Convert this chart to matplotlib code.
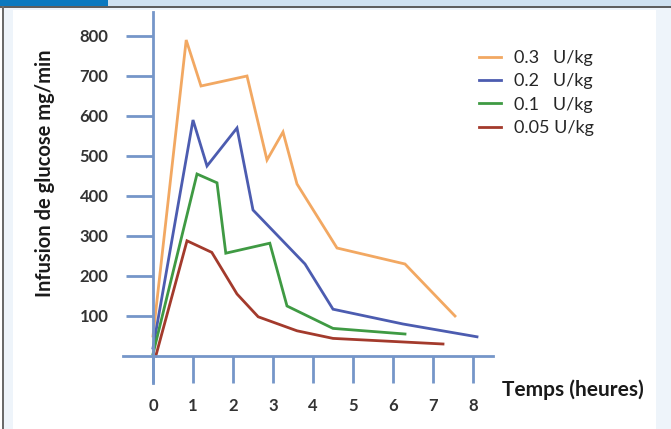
import matplotlib
matplotlib.use("Agg")
import matplotlib.pyplot as plt
from matplotlib.patches import Rectangle

# ---- data ----
doses = ["0.3   U/kg", "0.2   U/kg", "0.1   U/kg", "0.05 U/kg"]
colors = ["#f2a862", "#4c5cb0", "#3f9a43", "#a33a2c"]

t_03 = [0, 0.83, 1.2, 2.35, 2.85, 3.25, 3.6, 4.6, 6.3, 7.55]
v_03 = [50, 790, 675, 700, 490, 560, 430, 270, 230, 100]

t_02 = [0, 1.0, 1.35, 2.1, 2.5, 3.8, 4.5, 6.25, 8.1]
v_02 = [20, 590, 475, 570, 365, 230, 117, 80, 48]

t_01 = [0, 1.1, 1.6, 1.82, 2.92, 3.35, 4.5, 6.3]
v_01 = [5, 455, 433, 257, 282, 125, 69, 55]

t_005 = [0.07, 0.85, 1.47, 2.1, 2.63, 3.6, 4.5, 7.25]
v_005 = [0, 288, 259, 155, 98, 63, 44, 30]

yticks = [100, 200, 300, 400, 500, 600, 700, 800]
xticks = [0, 1, 2, 3, 4, 5, 6, 7, 8]

series = [(t_03, v_03), (t_02, v_02), (t_01, v_01), (t_005, v_005)]

W, H = 671, 429
fig = plt.figure(figsize=(W / 100, H / 100), dpi=100, facecolor="white")

def px_rect(x0, y0, x1, y1, color):
    fig.patches.append(Rectangle((x0 / W, 1 - y1 / H), (x1 - x0) / W, (y1 - y0) / H,
                                 transform=fig.transFigure, color=color, lw=0, zorder=0))

# frame decoration
px_rect(0, 0, W, 6, "#cfe1f0")
px_rect(0, 0, 108, 6, "#0a78bf")
px_rect(0, 6, W, 8, "#5e5e5e")
px_rect(0, 8, W, 10, "#eef4fa")
px_rect(2, 6, 4, H, "#6a6a6a")
px_rect(4, 8, 13, H, "#eef4fa")
px_rect(656, 8, W, H, "#eef4fa")

font = ["Lato", "DejaVu Sans"]
axcol = "#7596c9"
txtcol = "#262626"

ax = fig.add_axes([123 / W, (H - 383) / H, 370 / W, 371 / H])
ax.set_facecolor("none")
ax.set_xlim(-0.75, 8.5)
ax.set_ylim(-67.5, 860)

for (t, v), c, lab in zip(series, colors, doses):
    ax.plot(t, v, color=c, lw=2.0, label=lab, solid_joinstyle="miter")

for s in ["top", "right"]:
    ax.spines[s].set_visible(False)
ax.spines["left"].set_position(("data", 0))
ax.spines["bottom"].set_position(("data", 0))
for s in ["left", "bottom"]:
    ax.spines[s].set_color(axcol)
    ax.spines[s].set_linewidth(2.0)

ax.set_yticks(yticks)
ax.set_yticklabels([str(v) for v in yticks], fontfamily=font, fontsize=12,
                   fontweight="bold", color="#333333")
ax.set_xticks(xticks)
ax.set_xticklabels([str(v) for v in xticks], fontfamily=font, fontsize=12,
                   fontweight="bold", color="#333333")
ax.tick_params(axis="y", direction="out", length=19.5, width=2.0, color=axcol, pad=12.5)
ax.tick_params(axis="x", direction="out", length=19.5, width=2.0, color=axcol, pad=10.5)

fig.text(45 / W, 1 - 173 / H, "Infusion de glucose mg/min", rotation=90, ha="center", va="center",
         fontfamily=font, fontsize=14.5, fontweight="bold", color="#1a1a1a")
fig.text(502 / W, 1 - 390 / H, "Temps (heures)", ha="left", va="center",
         fontfamily=font, fontsize=15, fontweight="bold", color="#1a1a1a")

leg = ax.legend(loc="upper left", bbox_to_anchor=((463 - 123) / 370, (383 - 34) / 371),
                frameon=False, handlelength=1.2, handletextpad=0.7, labelspacing=0.4,
                prop={"family": font, "size": 13})
for txt in leg.get_texts():
    txt.set_color(txtcol)

fig.savefig("out.png", dpi=100, facecolor=fig.get_facecolor())
